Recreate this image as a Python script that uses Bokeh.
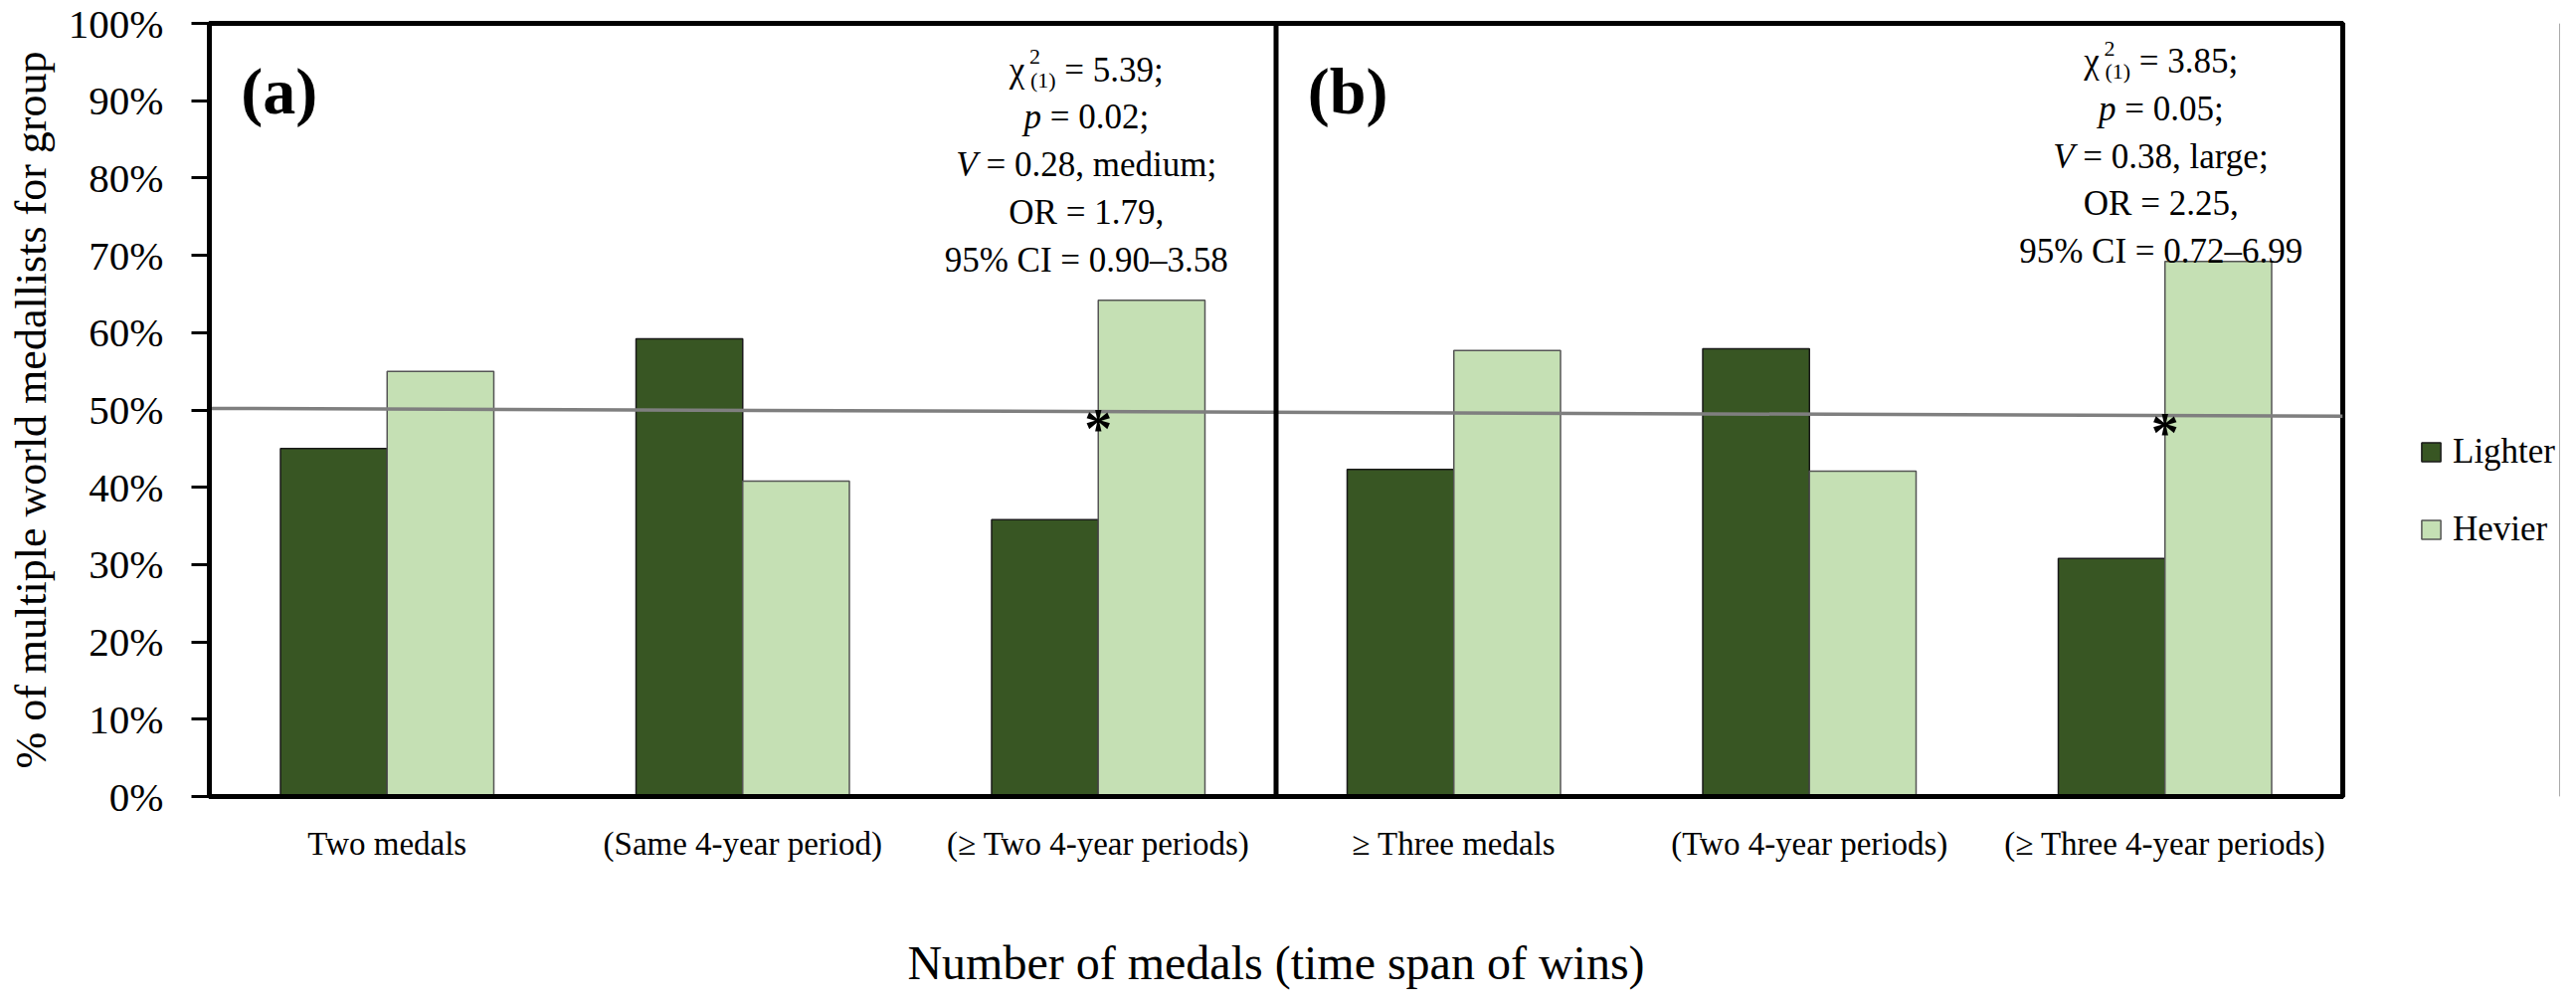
from bokeh.plotting import figure
from bokeh.layouts import row
from bokeh.models import (FactorRange, Range1d, FixedTicker, PrintfTickFormatter, Span,
                          Legend, LegendItem, ColumnDataSource)
from bokeh.transform import dodge
from bokeh.core.properties import value
from bokeh.embed import file_html
from bokeh.resources import INLINE

# ---------------- data ----------------
categories = ["Two medals", "(Same 4-year period)", "(\u2265 Two 4-year periods)",
              "\u2265 Three medals", "(Two 4-year periods)", "(\u2265 Three 4-year periods)"]
lighter = [45.0, 59.2, 35.8, 42.3, 57.9, 30.8]
heavier = [55.0, 40.8, 64.2, 57.7, 42.1, 69.2]
series_names = ["Lighter", "Hevier"]
y_ticks = [0, 10, 20, 30, 40, 50, 60, 70, 80, 90, 100]

ref_line_x = [0, 6]
ref_line_y = [50.2, 49.2]

sig_categories = ["(\u2265 Two 4-year periods)", "(\u2265 Three 4-year periods)"]
sig_y = [49.3, 48.9]

panel_labels = ["(a)", "(b)"]
panel_label_categories = ["Two medals", "\u2265 Three medals"]

stat_categories = ["(\u2265 Two 4-year periods)", "(\u2265 Three 4-year periods)"]
chi2_values = ["5.39", "3.85"]
p_values = ["0.02", "0.05"]
v_values = ["0.28, medium", "0.38, large"]
or_values = ["1.79", "2.25"]
ci_values = ["0.90\u20133.58", "0.72\u20136.99"]

# ---------------- style ----------------
FONT = "Liberation Serif"
DARK = "#385623"
LIGHT = "#C5E0B4"
DARK_EDGE = "#1a1a1a"
LIGHT_EDGE = "#555555"

total_w, fig_h = 2574, 996
main_w = 2360
leg_w = total_w - main_w
FRAME_L, FRAME_R, FRAME_T, FRAME_B = 210, 5, 23, 192
p = figure(x_range=FactorRange(*categories), y_range=Range1d(0, 100),
           width=main_w, height=fig_h, output_backend="svg", toolbar_location=None,
           min_border_left=FRAME_L, min_border_right=FRAME_R,
           min_border_top=FRAME_T, min_border_bottom=FRAME_B)
p.xgrid.visible = False
p.ygrid.visible = False
p.background_fill_color = "white"
p.border_fill_color = "white"
p.outline_line_color = "black"
p.outline_line_width = 5

src = ColumnDataSource(dict(cat=categories, lighter=lighter, heavier=heavier))
r1 = p.vbar(x=dodge("cat", -0.15, range=p.x_range), top="lighter", width=0.3, source=src,
            fill_color=DARK, line_color=DARK_EDGE, line_width=1.5)
r2 = p.vbar(x=dodge("cat", 0.15, range=p.x_range), top="heavier", width=0.3, source=src,
            fill_color=LIGHT, line_color=LIGHT_EDGE, line_width=1.5)

# 50% reference line
p.line(x=ref_line_x, y=ref_line_y, line_color="#7f7f7f", line_width=3.5)

# divider between panels
p.add_layout(Span(location=3, dimension="height", line_color="black", line_width=5))

# significance asterisks
p.text(x=sig_categories, y=sig_y, text=["*", "*"], text_font=value(FONT),
       text_font_size="56px", text_font_style="bold", text_align="center",
       text_baseline="middle", y_offset=14, text_color="black")

# panel labels
p.text(x=panel_label_categories, y=[91.2, 91.2], text=panel_labels, text_font=value(FONT),
       text_font_size="66px", text_font_style="bold", text_align="left",
       text_baseline="middle", x_offset=-147, text_color="black")

# statistics annotation (built from pieces so that italics/sub/superscripts show)
W = {c: 0.5 for c in "0123456789"}
W.update({'.': .25, ',': .25, ';': .278, ' ': .25, '=': .564, '\u2013': .5, '%': .833,
          'C': .667, 'I': .333, 'O': .722, 'R': .667, 'm': .778, 'e': .444, 'd': .5,
          'i': .278, 'u': .5, 'l': .278, 'a': .444, 'r': .333, 'g': .5, 'p': .5,
          'V': .611, '\u03c7': .55, '(': .333, ')': .333})


def tw(s, size):
    return sum(W.get(c, .5) for c in s) * size


FS = 35
SUB = 22
panel_top = [94.0, 95.1]
step = 6.15
panel_dx = [-12, -4]

ann = dict(x=[], y=[], text=[], size=[], style=[], xo=[])


def add_piece(cat, yy, t, s, st, xo):
    # leading blanks are dropped by SVG, so turn them into an offset
    stripped = t.lstrip(" ")
    xo += tw(t[:len(t) - len(stripped)], s)
    ann["x"].append(cat); ann["y"].append(yy); ann["text"].append(stripped)
    ann["size"].append(f"{s}px"); ann["style"].append(st); ann["xo"].append(xo)


for k in range(2):
    cat = stat_categories[k]
    dx = panel_dx[k]
    base_top = panel_top[k]
    rest = " = " + chi2_values[k] + ";"
    wchi = tw("\u03c7", FS)
    wsub = tw("(1)", SUB)
    total = wchi + wsub + 2 + tw(rest, FS)
    x0 = dx - total / 2
    y0 = base_top
    add_piece(cat, y0, "\u03c7", FS, "normal", x0)
    add_piece(cat, y0 + 1.66, "2", SUB, "normal", x0 + wchi + 1)
    add_piece(cat, y0 - 1.28, "(1)", SUB, "normal", x0 + wchi + 2)
    add_piece(cat, y0, rest, FS, "normal", x0 + wchi + wsub + 2)
    lines = [[("p", "italic"), (" = " + p_values[k] + ";", "normal")],
             [("V", "italic"), (" = " + v_values[k] + ";", "normal")],
             [("OR = " + or_values[k] + ",", "normal")],
             [("95% CI = " + ci_values[k], "normal")]]
    for li, pieces in enumerate(lines):
        yy = base_top - step * (li + 1)
        total = sum(tw(t, FS) for t, _ in pieces)
        xo = dx - total / 2
        for t, st in pieces:
            add_piece(cat, yy, t, FS, st, xo)
            xo += tw(t, FS)

ann_src = ColumnDataSource(ann)
p.text(x="x", y="y", text="text", x_offset="xo", text_font_size="size",
       text_font_style="style", text_font=value(FONT), text_align="left",
       text_baseline="alphabetic", text_color="black", source=ann_src)

# axes
p.yaxis.ticker = FixedTicker(ticks=y_ticks)
p.yaxis.formatter = PrintfTickFormatter(format="%d%%")
p.yaxis.axis_line_width = 5
p.yaxis.axis_line_color = "black"
p.yaxis.major_tick_line_width = 3
p.yaxis.major_tick_line_color = "black"
p.yaxis.major_tick_out = 18
p.yaxis.major_tick_in = 0
p.yaxis.minor_tick_line_color = None
p.yaxis.major_label_text_font = FONT
p.yaxis.major_label_text_font_size = "41px"
p.yaxis.major_label_text_color = "black"
p.yaxis.major_label_standoff = 28
p.yaxis.axis_label = "% of multiple world medallists for group"
p.yaxis.axis_label_text_font = FONT
p.yaxis.axis_label_text_font_size = "44px"
p.yaxis.axis_label_text_font_style = "normal"
p.yaxis.axis_label_text_color = "black"
p.yaxis.axis_label_standoff = 10

p.xaxis.axis_line_width = 5
p.xaxis.axis_line_color = "black"
p.xaxis.major_tick_line_color = None
p.xaxis.major_tick_out = 0
p.xaxis.major_tick_in = 0
p.xaxis.minor_tick_line_color = None
p.xaxis.major_label_text_font = FONT
p.xaxis.major_label_text_font_size = "33px"
p.xaxis.major_label_text_color = "black"
p.xaxis.major_label_standoff = 29
p.xaxis.axis_label = "Number of medals (time span of wins)"
p.xaxis.axis_label_text_font = FONT
p.xaxis.axis_label_text_font_size = "48px"
p.xaxis.axis_label_text_font_style = "normal"
p.xaxis.axis_label_text_color = "black"
p.xaxis.axis_label_standoff = 72

# ---------------- legend (in its own narrow panel to the right) ----------------
# same top/bottom borders as the main plot, since a row aligns the frames
lg = figure(width=leg_w, height=fig_h, x_range=Range1d(0, 1), y_range=Range1d(0, 1),
            output_backend="svg", toolbar_location=None,
            min_border_left=0, min_border_right=0,
            min_border_top=FRAME_T, min_border_bottom=FRAME_B)
lg.axis.visible = False
lg.grid.visible = False
lg.outline_line_color = None
lg.background_fill_color = "white"
lg.border_fill_color = "white"
# legend swatches only: the glyph data lie outside the visible range
swatch = ColumnDataSource(dict(x=[5], top=[5]))
l1 = lg.vbar(x="x", top="top", width=0.1, source=swatch,
             fill_color=DARK, line_color=DARK_EDGE, line_width=1.5)
l2 = lg.vbar(x="x", top="top", width=0.1, source=swatch,
             fill_color=LIGHT, line_color=LIGHT_EDGE, line_width=1.5)
legend = Legend(items=[LegendItem(label=series_names[0], renderers=[l1]),
                       LegendItem(label=series_names[1], renderers=[l2])],
                location=(72, 248), glyph_width=24, glyph_height=24,
                label_text_font=FONT, label_text_font_size="35px", label_text_color="black",
                label_height=40, spacing=38, padding=0, margin=0, label_standoff=10,
                border_line_alpha=0, background_fill_alpha=0)
lg.add_layout(legend)

layout = row(p, lg)
open("out.html", "w").write(file_html(layout, INLINE))
